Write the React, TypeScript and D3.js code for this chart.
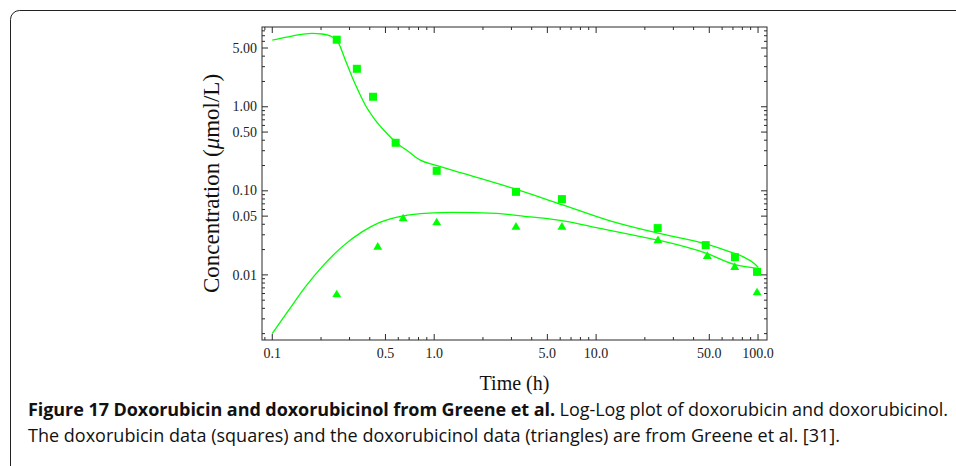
import React from 'react';
import * as d3 from 'd3';

const doxTime = [0.25, 0.333, 0.419, 0.578, 1.036, 3.2, 6.15, 24, 47.5, 72, 98.6];
const doxConc = [6.28, 2.83, 1.315, 0.373, 0.173, 0.0973, 0.0797, 0.036, 0.0226, 0.01625, 0.01086];
const olTime = [0.25, 0.448, 0.643, 1.036, 3.2, 6.15, 24.1, 48.6, 71.8, 98.6];
const olConc = [0.006, 0.0221, 0.0482, 0.0432, 0.0383, 0.0383, 0.0264, 0.0172, 0.0127, 0.00634];

// Fitted model curves
const doxFitTime = [0.1, 0.1323, 0.1758, 0.2026, 0.2337, 0.2571, 0.2825, 0.3107, 0.3418, 0.3753, 0.4327, 0.4989, 0.575, 0.696, 0.8207, 1.016, 1.512, 3.08, 6.27, 12.19, 23.67, 48.2, 67.1, 81.2, 93.5, 100.4];
const doxFitConc = [6.22, 6.94, 7.48, 7.34, 6.81, 5.68, 3.6, 2.28, 1.51, 1.05, 0.695, 0.504, 0.383, 0.291, 0.232, 0.202, 0.161, 0.1068, 0.0676, 0.0439, 0.0316, 0.0232, 0.0188, 0.01638, 0.0139, 0.01225];
const olFitTime = [0.1, 0.1263, 0.16, 0.2028, 0.2694, 0.3581, 0.4541, 0.6327, 0.9248, 1.288, 2.432, 3.906, 6.27, 10.57, 16.98, 24.23, 48.2, 70.4, 100.4];
const olFitConc = [0.002006, 0.0038, 0.0072, 0.01245, 0.02154, 0.0325, 0.0416, 0.05, 0.0543, 0.0553, 0.0538, 0.049, 0.0439, 0.0357, 0.0297, 0.0259, 0.018, 0.0134, 0.0119];

const xTickLabels = ['0.1', '0.5', '1.0', '5.0', '10.0', '50.0', '100.0'];
const yTickLabels = ['5.00', '1.00', '0.50', '0.10', '0.05', '0.01'];

const W = 956;
const H = 466;
const plot = { left: 262, right: 767, top: 27, bottom: 340 };
const GREEN = '#00ff00';
const AXIS = '#2a2a2a';

export default function App() {
  const x = d3.scaleLog().domain([0.0864, 113.6]).range([plot.left, plot.right]);
  const y = d3.scaleLog().domain([0.00168, 8.89]).range([plot.bottom, plot.top]);

  const line = d3
    .line<[number, number]>()
    .x((d) => x(d[0]))
    .y((d) => y(d[1]))
    .curve(d3.curveMonotoneX);

  const doxFit = doxFitTime.map((t, i) => [t, doxFitConc[i]] as [number, number]);
  const olFit = olFitTime.map((t, i) => [t, olFitConc[i]] as [number, number]);

  const xMajor = xTickLabels.map(Number);
  const yMajor = yTickLabels.map(Number);
  const minorOf = (dom: [number, number]) => {
    const out: number[] = [];
    for (let e = -4; e <= 3; e++) {
      for (let m = 1; m <= 9; m++) {
        const v = m * Math.pow(10, e);
        if (v >= dom[0] && v <= dom[1]) out.push(+v.toPrecision(3));
      }
    }
    return out;
  };
  const isMajor = (v: number, majors: number[]) => majors.some((m) => Math.abs(m - v) / m < 1e-6);
  const xTicks = minorOf(x.domain() as [number, number]);
  const yTicks = minorOf(y.domain() as [number, number]);
  const MAJ = 6;
  const MIN = 3;

  const sq = 8;
  const tri = 9;
  const triPath = (cx: number, cy: number) => {
    const h = tri * 0.85;
    return `M${cx},${cy - h / 2}L${cx + tri / 2},${cy + h / 2}L${cx - tri / 2},${cy + h / 2}Z`;
  };

  return (
    <svg
      width={W}
      height={H}
      style={{ position: 'absolute', left: 0, top: 0, background: '#fff' }}
      xmlns="http://www.w3.org/2000/svg"
    >
      <rect x={0} y={0} width={W} height={H} fill="#fff" />
      {/* outer figure frame */}
      <rect x={10.5} y={10.5} width={1000} height={1000} rx={9} ry={9} fill="none" stroke="#222" strokeWidth={1} />

      {/* axes frame */}
      <rect
        x={plot.left}
        y={plot.top}
        width={plot.right - plot.left}
        height={plot.bottom - plot.top}
        fill="none"
        stroke={AXIS}
        strokeWidth={1}
      />

      {/* x ticks */}
      {xTicks.map((v, i) => {
        const len = isMajor(v, xMajor) ? MAJ : MIN;
        const px = x(v);
        return (
          <g key={'xt' + i} stroke={AXIS} strokeWidth={1}>
            <line x1={px} x2={px} y1={plot.bottom} y2={plot.bottom - len} />
            <line x1={px} x2={px} y1={plot.top} y2={plot.top + len} />
          </g>
        );
      })}
      {/* y ticks */}
      {yTicks.map((v, i) => {
        const len = isMajor(v, yMajor) ? MAJ : MIN;
        const py = y(v);
        return (
          <g key={'yt' + i} stroke={AXIS} strokeWidth={1}>
            <line x1={plot.left} x2={plot.left + len} y1={py} y2={py} />
            <line x1={plot.right} x2={plot.right - len} y1={py} y2={py} />
          </g>
        );
      })}

      {/* tick labels */}
      <g fontFamily="'Liberation Serif', 'Times New Roman', serif" fontSize={14} fill="#222">
        {xTickLabels.map((lab) => (
          <text key={'xl' + lab} x={x(Number(lab))} y={358} textAnchor="middle">
            {lab}
          </text>
        ))}
        {yTickLabels.map((lab) => (
          <text key={'yl' + lab} x={257} y={y(Number(lab))} dy="0.33em" textAnchor="end">
            {lab}
          </text>
        ))}
      </g>

      {/* axis titles */}
      <text
        x={(plot.left + plot.right) / 2}
        y={390}
        textAnchor="middle"
        fontFamily="'Liberation Serif', 'Times New Roman', serif"
        fontSize={20}
        fill="#111"
      >
        Time (h)
      </text>
      <text
        transform={`translate(219, ${(plot.top + plot.bottom) / 2}) rotate(-90)`}
        textAnchor="middle"
        fontFamily="'Liberation Serif', 'Times New Roman', serif"
        fontSize={23}
        fill="#111"
      >
        Concentration (<tspan fontStyle="italic">μ</tspan>mol/L)
      </text>

      {/* fitted curves */}
      <path d={line(doxFit) || ''} fill="none" stroke={GREEN} strokeWidth={1.3} />
      <path d={line(olFit) || ''} fill="none" stroke={GREEN} strokeWidth={1.3} />

      {/* data markers */}
      {doxTime.map((t, i) => (
        <rect key={'sq' + i} x={x(t) - sq / 2} y={y(doxConc[i]) - sq / 2} width={sq} height={sq} fill={GREEN} />
      ))}
      {olTime.map((t, i) => (
        <path key={'tr' + i} d={triPath(x(t), y(olConc[i]))} fill={GREEN} />
      ))}

      {/* caption */}
      <g fontFamily="'Open Sans', 'Noto Sans', sans-serif" fontSize={18} fill="#111">
        <text x={28} y={416} textLength={920} lengthAdjust="spacing">
          <tspan fontWeight="bold">Figure 17 Doxorubicin and doxorubicinol from Greene et al.</tspan>
          <tspan> Log-Log plot of doxorubicin and doxorubicinol.</tspan>
        </text>
        <text x={28} y={442} textLength={812} lengthAdjust="spacing">
          The doxorubicin data (squares) and the doxorubicinol data (triangles) are from Greene et al. [31].
        </text>
      </g>
    </svg>
  );
}
